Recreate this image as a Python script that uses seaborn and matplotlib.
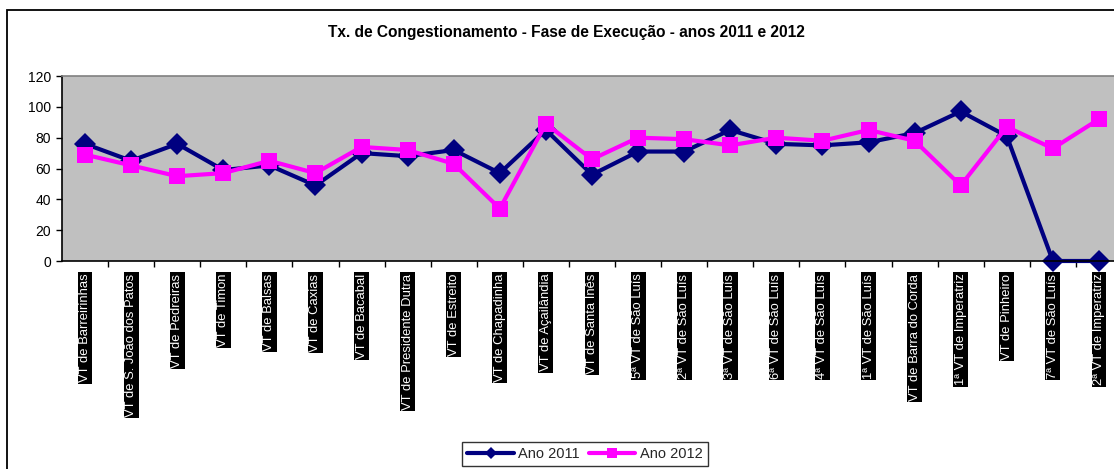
import matplotlib
matplotlib.use("Agg")
import matplotlib.pyplot as plt
from matplotlib.patches import Rectangle
import numpy as np
import pandas as pd
import seaborn as sns

# Vara do Trabalho names and congestion rates (%) for each year
varas = [
    "VT de Barreirinhas", "VT de S. João dos Patos", "VT de Pedreiras", "VT de Timon",
    "VT de Balsas", "VT de Caxias", "VT de Bacabal", "VT de Presidente Dutra",
    "VT de Estreito", "VT de Chapadinha", "VT de Açailândia", "VT de Santa Inês",
    "5ª VT de São Luís", "2ª VT de São Luís", "3ª VT de São Luís", "6ª VT de São Luís",
    "4ª VT de São Luís", "1ª VT de São Luís", "VT de Barra do Corda", "1ª VT de Imperatriz",
    "VT de Pinheiro", "7ª VT de São Luís", "2ª VT de Imperatriz",
]
ano_2011 = [76, 65, 76, 59, 62, 49, 70, 68, 72, 57, 85, 56,
            71, 71, 85, 76, 75, 77, 83, 97, 81, 0, 0]
ano_2012 = [69, 62, 55, 57, 65, 57, 74, 72, 63, 34, 89, 66,
            80, 79, 75, 80, 78, 85, 78, 49, 87, 73, 92]
series_names = ["Ano 2011", "Ano 2012"]
y_ticks = [0, 20, 40, 60, 80, 100, 120]
title = "Tx. de Congestionamento - Fase de Execução - anos 2011 e 2012"

pos = np.arange(len(varas))
df = pd.DataFrame({
    "pos": np.concatenate([pos, pos]),
    "taxa": ano_2011 + ano_2012,
    "serie": [series_names[0]] * len(varas) + [series_names[1]] * len(varas),
})

sns.set_theme(style="white")
plt.rcParams["font.family"] = ["Liberation Sans", "DejaVu Sans"]

W, H = 1114, 469
fig = plt.figure(figsize=(W / 100, H / 100), dpi=100)

# outer chart frame (runs off the right and bottom edges)
fig.patches.append(Rectangle((7 / W, -0.1), 1.2, 1 - 10 / H + 0.1,
                             transform=fig.transFigure, fill=False,
                             edgecolor="black", linewidth=1.3, zorder=0))

ax_left, ax_right, ax_top, ax_bot = 62, 1122, 76, 261
ax = fig.add_axes([ax_left / W, 1 - ax_bot / H,
                   (ax_right - ax_left) / W, (ax_bot - ax_top) / H])
ax.set_facecolor("#C0C0C0")

palette = {series_names[0]: "#000080", series_names[1]: "#FF00FF"}
markers = {series_names[0]: "D", series_names[1]: "s"}
sns.lineplot(data=df, x="pos", y="taxa", hue="serie", style="serie",
             palette=palette, markers=markers, dashes=False, sort=False,
             linewidth=3, markersize=11, markeredgewidth=0, ax=ax,
             clip_on=False, legend=True)

ax.set_xlim(-0.5, len(varas) - 0.5)
ax.set_ylim(0, 120)
ax.set_xlabel("")
ax.set_ylabel("")

ax.set_yticks(y_ticks)
ax.set_yticklabels([str(t) for t in y_ticks], fontsize=10, color="black")
ax.tick_params(axis="y", direction="out", length=4, width=1, color="black", pad=4, left=True)

ax.set_xticks(pos)
ax.set_xticklabels(varas, rotation=90, fontsize=9.4, color="white", va="top", ha="center")
for lbl in ax.get_xticklabels():
    lbl.set_bbox(dict(facecolor="black", edgecolor="none", pad=1.0))
ax.set_xticks(pos[:-1] + 0.5, minor=True)
ax.tick_params(axis="x", which="major", length=0, pad=9)
ax.tick_params(axis="x", which="minor", direction="out", length=4, width=1, color="black", bottom=True)

for side in ["left", "bottom"]:
    ax.spines[side].set_color("black")
    ax.spines[side].set_linewidth(1.2)
ax.spines["top"].set_color("#808080")
ax.spines["top"].set_linewidth(1.2)
ax.spines["right"].set_visible(False)

fig.text(566 / W, 1 - 33 / H, title, ha="center", va="center",
         fontsize=11.2, fontweight="bold", color="black")

handles, labels = ax.get_legend_handles_labels()
ax.get_legend().remove()
leg = fig.legend(handles, labels, loc="upper center",
                 bbox_to_anchor=(585 / W, 1 - 442 / H), ncol=2,
                 frameon=True, fancybox=False, fontsize=10.5,
                 handlelength=3.2, handletextpad=0.3, columnspacing=0.6,
                 borderpad=0.35, markerscale=0.6, borderaxespad=0)
leg.get_frame().set_edgecolor("black")
leg.get_frame().set_linewidth(1.0)

fig.savefig("out.png", dpi=100)
